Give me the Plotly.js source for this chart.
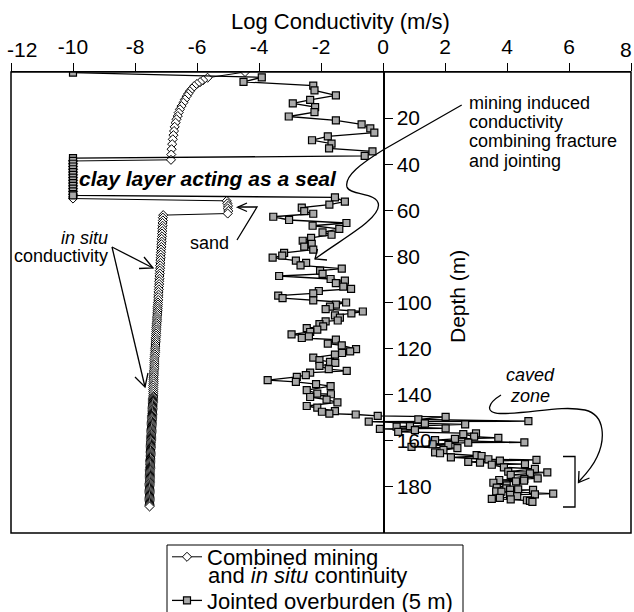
<!DOCTYPE html>
<html>
<head>
<meta charset="utf-8">
<script src="https://cdn.plot.ly/plotly-3.0.1.min.js"></script>
<style>html,body{margin:0;padding:0;background:#fff;}#chart{width:634px;height:612px;}</style>
</head>
<body>
<div id="chart"></div>
<script>
// ---------- DATA ----------
const seriesNames = ["Combined mining", "Jointed overburden (5 m)"];
const seriesNameCont = "and <i>in situ</i> continuity";

// Combined mining and in situ continuity (log K, depth m)
const combinedDepth = [
  0, 2.5, 3.5, 4.4, 5.2, 6.1, 7.2, 8.3, 9.4, 10.5, 11.9, 13.3, 14.8, 16.2, 17.6, 19.1, 20.5, 22.0, 23.8, 25.6, 27.4, 29.2, 31.3, 33.5, 35.8, 38.1,
  38.6, 39.8, 41.0, 42.2, 43.4, 44.6, 45.8, 47.0, 48.2, 49.4, 50.6, 51.8, 53.0, 54.2, 54.9,
  55.9, 57.0, 58.1, 59.2, 60.3, 61.4,
  62.1, 63.2, 64.4, 65.5, 66.7, 67.8, 69.0, 70.1, 71.3, 72.4, 73.6, 74.7, 75.9, 77.0, 78.2, 79.3, 80.5, 81.6, 82.8, 83.9,
  85.1, 86.2, 87.4, 88.5, 89.7, 90.8, 92.0, 93.1, 94.3, 95.4, 96.6, 97.7, 98.9, 100.0,
  100.9, 101.8, 102.7, 103.6, 104.5, 105.4, 106.3, 107.2, 108.1, 109.0, 109.9, 110.8, 111.7, 112.6, 113.5, 114.4, 115.3, 116.2, 117.1, 118.0,
  118.9, 119.8, 120.7, 121.6, 122.5, 123.4, 124.3, 125.2, 126.1, 127.0, 127.9, 128.8, 129.7, 130.6, 131.5, 132.4, 133.3, 134.2, 135.1, 136.0,
  136.9, 137.8, 138.7, 139.6,
  140.5, 141.0, 141.5, 142.0, 142.5, 143.0, 143.5, 144.0, 144.5, 145.0, 145.5, 146.0, 146.5, 147.0, 147.5, 148.0, 148.5, 149.0, 149.5, 150.0,
  150.5, 151.0, 151.5, 152.0, 152.5, 153.0, 153.5, 154.0, 154.5, 155.0, 155.5, 156.0, 156.5, 157.0, 157.5, 158.0, 158.5, 159.0, 159.5, 160.0,
  160.5, 161.0, 161.5, 162.0, 162.5, 163.0, 163.5, 164.0, 164.5, 165.0, 165.5, 166.0, 166.5, 167.0, 167.5, 168.0, 168.5, 169.0, 169.5, 170.0,
  170.5, 171.0, 171.5, 172.0, 172.5, 173.0, 173.5, 174.0, 174.5, 175.0, 175.5, 176.0, 176.5, 177.0, 177.5, 178.0, 178.5, 179.0, 179.5, 180.0,
  180.5, 181.0, 181.5, 182.0, 182.5, 183.0, 183.5, 184.0, 184.5, 185.0, 185.5, 186.0, 186.5, 187.0, 187.5, 188.0, 188.5
];
const combinedLogK = [
  -4.45, -5.66, -5.80, -5.90, -6.00, -6.09, -6.16, -6.23, -6.28, -6.33, -6.39, -6.44, -6.50, -6.55, -6.59, -6.62, -6.66, -6.69, -6.72, -6.74, -6.76, -6.78, -6.80, -6.82, -6.83, -6.84,
  -10, -10, -10, -10, -10, -10, -10, -10, -10, -10, -10, -10, -10, -10, -10,
  -5.04, -5.02, -5.00, -5.01, -4.99, -5.01,
  -7.09, -7.10, -7.10, -7.11, -7.11, -7.12, -7.12, -7.13, -7.13, -7.14, -7.14, -7.15, -7.15, -7.16, -7.16, -7.17, -7.17, -7.18, -7.18, -7.19,
  -7.19, -7.20, -7.20, -7.21, -7.21, -7.22, -7.22, -7.23, -7.23, -7.24, -7.24, -7.25, -7.25, -7.26,
  -7.26, -7.27, -7.27, -7.27, -7.28, -7.28, -7.29, -7.29, -7.29, -7.30, -7.30, -7.31, -7.31, -7.31, -7.32, -7.32, -7.33, -7.33, -7.33, -7.34,
  -7.34, -7.35, -7.35, -7.35, -7.36, -7.36, -7.37, -7.37, -7.37, -7.38, -7.38, -7.38, -7.39, -7.39, -7.39, -7.40, -7.40, -7.40, -7.40, -7.41,
  -7.41, -7.41, -7.41, -7.41,
  -7.41, -7.41, -7.42, -7.42, -7.42, -7.42, -7.42, -7.43, -7.43, -7.43, -7.43, -7.43, -7.44, -7.44, -7.44, -7.44, -7.44, -7.45, -7.45, -7.45,
  -7.45, -7.45, -7.46, -7.46, -7.46, -7.46, -7.46, -7.46, -7.47, -7.47, -7.47, -7.47, -7.47, -7.47, -7.48, -7.48, -7.48, -7.48, -7.48, -7.48,
  -7.49, -7.49, -7.49, -7.49, -7.49, -7.49, -7.49, -7.50, -7.50, -7.50, -7.50, -7.50, -7.50, -7.50, -7.50, -7.51, -7.51, -7.51, -7.51, -7.51,
  -7.51, -7.51, -7.51, -7.51, -7.52, -7.52, -7.52, -7.52, -7.52, -7.52, -7.52, -7.52, -7.52, -7.52, -7.52, -7.52, -7.53, -7.53, -7.53, -7.53,
  -7.53, -7.53, -7.53, -7.53, -7.53, -7.53, -7.53, -7.53, -7.53, -7.53, -7.53, -7.53, -7.53, -7.53, -7.53, -7.53, -7.53
];

// Jointed overburden (5 m)
const jointedDepth = [
  0.3, 2.3, 4.3, 5.9, 8.0, 10.1, 12.1, 13.6, 15.2, 17.4, 19.3, 21.0, 22.7, 24.5, 26.3, 27.9, 29.6, 31.1, 33.1, 34.4, 36.4,
  37.4, 38.6, 39.8, 41.0, 42.2, 43.4, 44.6, 45.8, 47.0, 48.2, 49.4, 50.6, 51.8, 53.0, 53.5,
  54.4, 56.2, 57.5, 58.8, 60.4, 61.5, 62.8, 64.2, 65.5, 66.7, 68.1, 69.6, 70.6, 72.0, 73.2, 74.6, 75.8, 77.1, 78.5, 79.7,
  80.5, 81.8, 82.8, 83.9, 85.3, 86.2, 87.6, 88.5, 89.8, 90.5, 91.6, 93.1, 94.1, 95.0, 96.0, 97.0, 98.1, 99.1, 100.0,
  100.9, 101.8, 102.9, 103.9, 104.7, 105.6, 106.6, 107.8, 108.2, 109.4, 110.4, 111.1, 111.8, 112.8, 113.8, 114.7, 115.4,
  116.1, 117.8, 118.6, 120.2, 121.2, 121.9, 122.6, 123.9, 125.0, 125.8, 126.2, 127.5, 128.9, 129.7, 130.4, 131.5, 132.3,
  133.7, 134.4, 135.4, 136.3, 138.0, 139.5, 139.8, 141.0, 142.1, 143.3, 144.9, 145.6, 147.1, 147.4, 148.2, 148.6, 149.2,
  149.6, 150.7, 151.5, 151.7, 152.5, 152.9, 153.6, 153.9, 154.6, 154.8, 155.4, 156.1, 156.8, 157.1, 158.2, 158.7, 159.2,
  159.7, 160.7, 160.8, 161.5, 161.8, 162.6, 163.2, 164.0, 165.0, 165.4, 166.2, 166.6, 167.2, 168.0, 168.3, 168.6, 169.1,
  169.5, 170.1, 170.4, 171.5, 172.2, 173.4, 173.7, 174.1, 174.8, 176.3, 176.5, 177.0, 177.3, 177.6, 178.2, 179.4, 180.3,
  180.6, 181.1, 181.2, 181.3, 181.9, 182.1, 182.9, 183.2, 183.5, 184.0, 184.8, 185.2, 185.4, 185.8, 186.1, 186.5
];
const jointedLogK = [
  -10.0, -3.91, -4.50, -2.25, -2.21, -1.52, -2.35, -2.91, -2.19, -2.21, -3.04, -1.52, -0.69, -0.41, -0.28, -1.78, -2.29, -1.66, -1.74, -0.34, -0.59,
  -10, -10, -10, -10, -10, -10, -10, -10, -10, -10, -10, -10, -10, -10, -10,
  -1.55, -1.23, -1.73, -2.62, -2.54, -2.25, -3.54, -3.03, -1.18, -2.27, -1.41, -1.95, -1.66, -2.32, -2.59, -2.30, -2.54, -2.25, -3.19, -3.25,
  -3.56, -2.81, -2.48, -2.66, -1.33, -2.03, -1.95, -3.35, -1.69, -1.23, -1.52, -1.28, -1.03, -2.07, -2.25, -3.38, -3.24, -2.25, -1.19,
  -1.52, -1.71, -1.85, -0.65, -1.02, -1.55, -1.39, -1.46, -1.85, -2.05, -1.93, -2.46, -2.12, -2.35, -2.95, -2.39, -2.62,
  -1.52, -1.78, -1.33, -0.87, -1.06, -1.32, -1.55, -2.25, -2.05, -1.71, -1.54, -2.05, -1.75, -1.17, -2.35, -2.49, -2.78,
  -3.72, -2.81, -2.16, -1.69, -2.46, -2.12, -1.68, -2.35, -1.82, -1.47, -2.46, -2.12, -1.55, -1.97, -1.73, -0.88, -0.17,
  2.02, 1.14, 4.69, -0.46, 1.35, 2.65, 0.87, 0.44, 2.02, -0.10, 1.03, 0.49, 3.00, 2.59, 2.94, 3.72, 2.32,
  1.68, 4.56, 2.75, 1.60, 2.11, 0.92, 2.40, 1.95, 1.68, 1.84, 3.02, 3.18, 2.19, 3.40, 4.95, 3.77, 2.75,
  3.13, 4.58, 3.51, 3.90, 4.90, 4.04, 5.30, 4.74, 4.12, 4.99, 4.56, 3.75, 4.55, 4.29, 3.56, 3.99, 3.67,
  3.98, 4.36, 4.10, 4.84, 3.65, 3.82, 5.49, 4.90, 4.10, 4.33, 3.77, 3.51, 4.12, 4.64, 4.74, 4.82
];

// Top-axis ticks; the two end labels are drawn inside the page edge
const xTickVals = [-12, -10, -8, -6, -4, -2, 0, 2, 4, 6, 8];
const xTickText = ["", "-10", "-8", "-6", "-4", "-2", "0", "2", "4", "6", ""];
const xEndLabels = ["-12", "8"];
const yTickVals = [20, 40, 60, 80, 100, 120, 140, 160, 180];

// ---------- LAYOUT HELPERS ----------
const M = {l: 11, r: 3, t: 72, b: 79, autoexpand: false};
const W = 634, H = 612;
const pw = W - M.l - M.r, ph = H - M.t - M.b;
const XR = [-12, 8], YR = [200, 0];
const X = px => XR[0] + (px - M.l) / pw * (XR[1] - XR[0]);
const D = py => YR[1] + (py - M.t) / ph * (YR[0] - YR[1]);
const P = (px, py) => X(px).toFixed(4) + ',' + D(py).toFixed(4);
const PX = px => (px - M.l) / pw;
const PY = py => (H - M.b - py) / ph;

const FONT = 'Liberation Sans, Arial, Helvetica, sans-serif';
const INK = '#000';
const TICKSIZE = 21;

const traces = [
  {
    x: combinedLogK, y: combinedDepth, name: seriesNames[0], legendgroup: 'g1',
    type: 'scatter', mode: 'lines+markers',
    line: {color: INK, width: 1},
    marker: {symbol: 'diamond', size: 7, color: '#fff', line: {color: INK, width: 1}}
  },
  {
    x: jointedLogK, y: jointedDepth, name: seriesNames[1], legendgroup: 'g2',
    type: 'scatter', mode: 'lines+markers',
    line: {color: INK, width: 1.3},
    marker: {symbol: 'square', size: 7, color: '#a9a9a9', line: {color: INK, width: 1.2}}
  }
];

function pathShape(d) {
  return {type: 'path', xref: 'x', yref: 'y', path: d, line: {color: INK, width: 1.3}, layer: 'above'};
}

const shapes = [
  {type: 'rect', xref: 'paper', yref: 'paper', x0: 0, x1: 1, y0: 0, y1: 1, line: {color: INK, width: 1.5}},
  // legend frame
  {type: 'rect', xref: 'paper', yref: 'paper', x0: PX(167), x1: PX(463), y0: PY(545), y1: PY(640), line: {color: INK, width: 1}},
  // sand arrow
  pathShape('M' + P(237, 240) + ' L' + P(257, 207) + ' L' + P(238, 207)),
  pathShape('M' + P(247, 203) + ' L' + P(237.5, 207.3) + ' L' + P(247, 211.5)),
  // in situ arrows
  pathShape('M' + P(112, 247) + ' L' + P(153, 268)),
  pathShape('M' + P(144, 257) + ' L' + P(153, 268) + ' L' + P(139, 268.5)),
  pathShape('M' + P(112, 247) + ' L' + P(145, 387)),
  pathShape('M' + P(135, 377) + ' L' + P(145, 387) + ' L' + P(148, 373)),
  // mining induced curve
  pathShape('M' + P(461.7, 105) + ' L' + P(383, 150) +
            ' C' + P(362, 163) + ' ' + P(344, 176) + ' ' + P(347, 187) +
            ' C' + P(350, 196) + ' ' + P(378, 192) + ' ' + P(378.5, 205) +
            ' C' + P(379, 220) + ' ' + P(340, 240) + ' ' + P(315, 259)),
  pathShape('M' + P(317.5, 249) + ' L' + P(315, 259) + ' L' + P(327, 260)),
  // caved zone curve
  pathShape('M' + P(501, 395) + ' C' + P(488, 403) + ' ' + P(484, 413) + ' ' + P(500, 413.5) +
            ' C' + P(530, 414) + ' ' + P(560, 405) + ' ' + P(585, 410) +
            ' C' + P(606, 415) + ' ' + P(605, 440) + ' ' + P(597, 457) +
            ' C' + P(592, 468) + ' ' + P(585, 475) + ' ' + P(578.5, 482)),
  pathShape('M' + P(579, 471) + ' L' + P(578.5, 482.5) + ' L' + P(589.5, 478)),
  // bracket
  pathShape('M' + P(563, 456.5) + ' L' + P(575, 456.5) + ' L' + P(575, 507) + ' L' + P(563, 507))
];

function note(text, px, py, size, xanchor, extra) {
  return Object.assign({
    text: text, x: X(px), y: D(py), xref: 'x', yref: 'y', showarrow: false,
    xanchor: xanchor || 'center', yanchor: 'middle',
    font: {family: FONT, size: size, color: INK}
  }, extra || {});
}
function pnote(text, px, py, size, xanchor, extra) {
  return Object.assign({
    text: text, x: PX(px), y: PY(py), xref: 'paper', yref: 'paper', showarrow: false,
    xanchor: xanchor || 'center', yanchor: 'middle',
    font: {family: FONT, size: size, color: INK}
  }, extra || {});
}

const annotations = [
  note('<b><i>clay layer acting as a seal</i></b>', 208, 178, 21),
  note('sand', 209, 243, 18),
  note('<i>in situ</i>', 110, 238, 18, 'right'),
  note('conductivity', 110, 256, 18, 'right'),
  note('mining induced', 467, 103, 18, 'left'),
  note('conductivity', 467, 122, 18, 'left'),
  note('combining fracture', 467, 141, 18, 'left'),
  note('and jointing', 467, 161, 18, 'left'),
  note('<i>caved</i>', 530, 375, 18),
  note('<i>zone</i>', 530, 396, 18),
  pnote('Log Conductivity (m/s)', 340, 22, 22),
  pnote('Depth (m)', 457, 297, 21, 'center', {textangle: -90}),
  pnote(seriesNameCont, 206, 575, 22, 'left'),
  pnote(xEndLabels[0], 5, 49, TICKSIZE, 'left'),
  pnote(xEndLabels[1], 634, 49, TICKSIZE, 'right')
];

const layout = {
  width: W, height: H, margin: M,
  paper_bgcolor: '#fff', plot_bgcolor: '#fff',
  font: {family: FONT, size: 20, color: INK},
  showlegend: true,
  legend: {
    x: PX(167), y: PY(536), xanchor: 'left', yanchor: 'top',
    bgcolor: 'rgba(0,0,0,0)', borderwidth: 0,
    font: {family: FONT, size: 22, color: INK}, tracegroupgap: 12, traceorder: 'grouped'
  },
  xaxis: {
    range: XR, side: 'top', domain: [0, 1],
    tickvals: xTickVals, ticktext: xTickText,
    ticks: 'outside', ticklen: 8, tickwidth: 1, tickcolor: INK,
    showline: true, linecolor: INK, linewidth: 1.5,
    showgrid: false, zeroline: false,
    tickfont: {family: FONT, size: TICKSIZE, color: INK}
  },
  yaxis: {
    range: YR, anchor: 'free', position: 12 / 20, side: 'right',
    tickvals: yTickVals,
    ticks: 'outside', ticklen: 8, tickwidth: 1, tickcolor: INK,
    showline: true, linecolor: INK, linewidth: 1.5,
    showgrid: false, zeroline: false,
    tickfont: {family: FONT, size: TICKSIZE, color: INK}
  },
  shapes: shapes,
  annotations: annotations
};

Plotly.newPlot('chart', traces, layout, {staticPlot: true, displayModeBar: false});
</script>
</body>
</html>
